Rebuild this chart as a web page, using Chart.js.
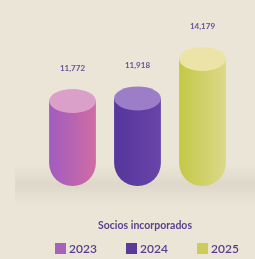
<!DOCTYPE html>
<html><head><meta charset="utf-8">
<script src="https://cdn.jsdelivr.net/npm/chart.js@4"></script>
<style>
html,body{margin:0;padding:0;background:#ebe5d8;}
#wrap{width:255px;height:259px;position:relative;}
</style></head>
<body><div id="wrap"><canvas id="c" width="255" height="259"></canvas></div>
<script>
const categories = ['2023', '2024', '2025'];
const values = [11772, 11918, 14179];
const valueLabels = ['11,772', '11,918', '14,179'];
const chartTitle = 'Socios incorporados';
const axisMin = 6900;
const axisMax = 14179;
const bodyLeft = ['#a05cc0', '#55369c', '#c3c845'];
const bodyRight = ['#d06ca4', '#6a44a8', '#dcd98a'];
const topColors = ['#dba0ca', '#9c7ec8', '#ebe4a6'];
const legendColors = ['#a662b8', '#5a3a98', '#cccc5c'];

const cylinders = {
  id: 'cylinders',
  beforeDraw(chart) {
    const ctx = chart.ctx;
    const a = chart.chartArea;
    ctx.save();
    ctx.fillStyle = '#ebe5d8';
    ctx.fillRect(0, 0, chart.width, chart.height);
    const g = ctx.createLinearGradient(0, a.bottom - 22, 0, a.bottom + 20);
    g.addColorStop(0, 'rgba(222,215,202,0)');
    g.addColorStop(0.5, 'rgba(220,213,200,0.9)');
    g.addColorStop(1, 'rgba(222,215,202,0)');
    ctx.fillStyle = g;
    ctx.fillRect(15, a.bottom - 22, chart.width - 15, 42);
    ctx.restore();
  },
  afterDatasetsDraw(chart) {
    const ctx = chart.ctx;
    const meta = chart.getDatasetMeta(0);
    ctx.save();
    meta.data.forEach((bar, i) => {
      const w = bar.width;
      ctx.beginPath();
      ctx.ellipse(bar.x, bar.y, w / 2, 12, 0, 0, Math.PI * 2);
      ctx.fillStyle = topColors[i];
      ctx.fill();
      ctx.fillStyle = '#6a4f9c';
      ctx.font = 'bold 8px Lato';
      ctx.textAlign = 'center';
      ctx.textBaseline = 'middle';
      ctx.fillText(valueLabels[i], bar.x, bar.y - 33);
    });
    ctx.fillStyle = '#5b3f8f';
    ctx.font = 'bold 10.5px Lato';
    ctx.textAlign = 'center';
    ctx.textBaseline = 'middle';
    ctx.fillText(chartTitle, 145, 226);
    categories.forEach((c, i) => {
      const x0 = 55 + i * 71;
      ctx.fillStyle = legendColors[i];
      ctx.fillRect(x0, 243, 11, 11);
      ctx.fillStyle = '#5a3a8e';
      ctx.font = '600 12px Lato';
      ctx.textAlign = 'left';
      ctx.fillText(c, x0 + 14, 249);
    });
    ctx.restore();
  }
};

new Chart(document.getElementById('c'), {
  type: 'bar',
  data: {
    labels: categories,
    datasets: [{
      data: values,
      base: axisMin,
      backgroundColor(ctx) {
        const chart = ctx.chart;
        const i = ctx.dataIndex;
        if (!chart.chartArea || !chart.scales.x) return bodyLeft[i];
        const cx = chart.scales.x.getPixelForValue(i);
        const g = chart.ctx.createLinearGradient(cx - 24, 0, cx + 24, 0);
        g.addColorStop(0, bodyLeft[i]);
        g.addColorStop(1, bodyRight[i]);
        return g;
      },
      borderSkipped: 'end',
      borderRadius: 23,
      barPercentage: 0.9,
      categoryPercentage: 0.8
    }]
  },
  options: {
    responsive: false,
    animation: false,
    layout: {padding: {left: 40, right: 20, top: 59, bottom: 73}},
    scales: {
      x: {display: false},
      y: {display: false, min: axisMin, max: axisMax}
    },
    plugins: {
      tooltip: {enabled: false},
      legend: {display: false}
    }
  },
  plugins: [cylinders]
});
</script></body></html>
